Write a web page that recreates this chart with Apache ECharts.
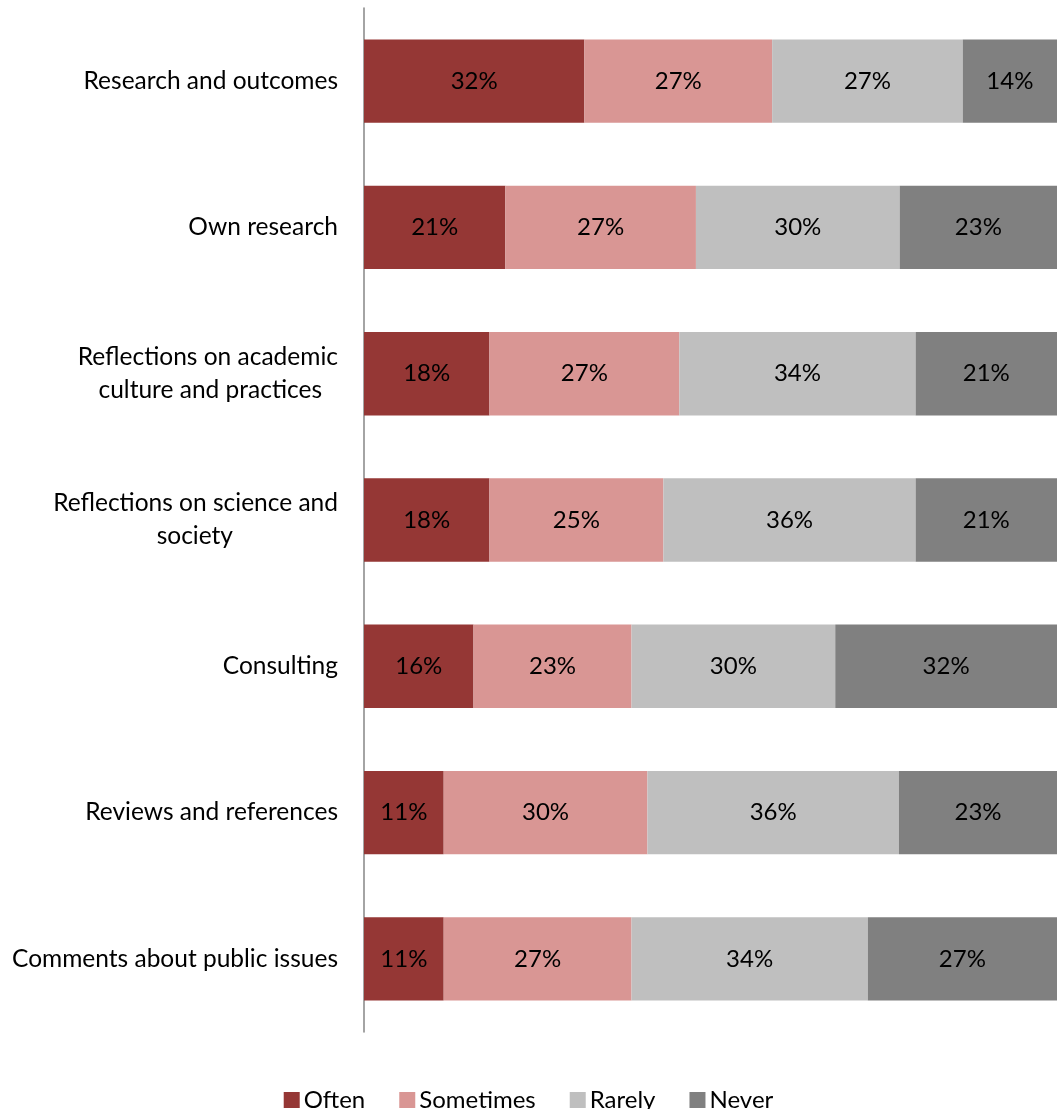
<!DOCTYPE html>
<html>
<head>
<meta charset="utf-8">
<script src="https://cdn.jsdelivr.net/npm/echarts@6/dist/echarts.min.js"></script>
<style>
  html, body { margin: 0; padding: 0; background: #fff; }
  #chart { width: 1057px; height: 1109px; }
</style>
</head>
<body>
<div id="chart"></div>
<script>
// categories, top to bottom
const categories = [
  'Research and outcomes',
  'Own research',
  'Reflections on academic\nculture and practices',
  'Reflections on science and\nsociety',
  'Consulting',
  'Reviews and references',
  'Comments about public issues'
]

// share of respondents (%)
const often = [31.8, 20.4, 18.1, 18.1, 15.8, 11.5, 11.5]
const sometimes = [27.1, 27.5, 27.4, 25.1, 22.8, 29.4, 27.1]
const rarely = [27.5, 29.4, 34.1, 36.4, 29.4, 36.3, 34.1]
const never = [13.6, 22.7, 20.4, 20.4, 32.0, 22.8, 27.3]

// percentages as printed on the bars
const oftenLabels = [32, 21, 18, 18, 16, 11, 11]
const sometimesLabels = [27, 27, 27, 25, 23, 30, 27]
const rarelyLabels = [27, 30, 34, 36, 30, 36, 34]
const neverLabels = [14, 23, 21, 21, 32, 23, 27]

const seriesNames = ['Often', 'Sometimes', 'Rarely', 'Never']
const seriesColors = ['#953735', '#d99694', '#bfbfbf', '#808080']

const FONT = 'Lato, "Open Sans", sans-serif'
const FONT_SIZE = 24
const CAT_FONT_SIZE = 24.5

// right padding of the wrapped second line (Excel wraps a bit off-center)
const secondLinePad = { 2: 16, 3: 105 }

const chart = echarts.init(document.getElementById('chart'), null, { renderer: 'canvas' })

function makeSeries(name, data, labels, color) {
  return {
    name,
    type: 'bar',
    stack: 'total',
    data: data.map((v, i) => ({ value: v, printed: labels[i] })),
    barCategoryGap: '43%',
    itemStyle: { color },
    label: {
      show: true,
      position: 'inside',
      color: '#000',
      fontFamily: FONT,
      fontSize: FONT_SIZE,
      formatter: p => p.data.printed + '%'
    }
  }
}

const catText = { fontFamily: FONT, fontSize: CAT_FONT_SIZE, color: '#000', lineHeight: 33 }

chart.setOption({
  animation: false,
  grid: { left: 364, right: -8, top: 8, bottom: 77, containLabel: false },
  legend: {
    data: seriesNames,
    top: 1083,
    left: 'center',
    itemWidth: 16,
    itemHeight: 16,
    itemGap: 34,
    icon: 'rect',
    textStyle: { fontFamily: FONT, fontSize: FONT_SIZE, color: '#000', padding: [0, 0, 0, -1] }
  },
  xAxis: {
    type: 'value',
    min: 0,
    max: 100,
    show: false
  },
  yAxis: {
    type: 'category',
    inverse: true,
    data: categories,
    axisLine: { show: true, lineStyle: { color: '#868686', width: 1.5 } },
    axisTick: { show: false },
    splitLine: { show: false },
    axisLabel: {
      margin: 26,
      color: '#000',
      fontFamily: FONT,
      fontSize: CAT_FONT_SIZE,
      lineHeight: 33,
      formatter: function (value, index) {
        const lines = value.split('\n')
        if (lines.length === 1) return '{a|' + value + '}'
        return '{a|' + lines[0] + '}\n{b' + index + '|' + lines[1] + '}'
      },
      rich: {
        a: catText,
        b2: Object.assign({}, catText, { padding: [0, secondLinePad[2], 0, 0] }),
        b3: Object.assign({}, catText, { padding: [0, secondLinePad[3], 0, 0] })
      }
    }
  },
  series: [
    makeSeries(seriesNames[0], often, oftenLabels, seriesColors[0]),
    makeSeries(seriesNames[1], sometimes, sometimesLabels, seriesColors[1]),
    makeSeries(seriesNames[2], rarely, rarelyLabels, seriesColors[2]),
    makeSeries(seriesNames[3], never, neverLabels, seriesColors[3])
  ]
})
</script>
</body>
</html>
